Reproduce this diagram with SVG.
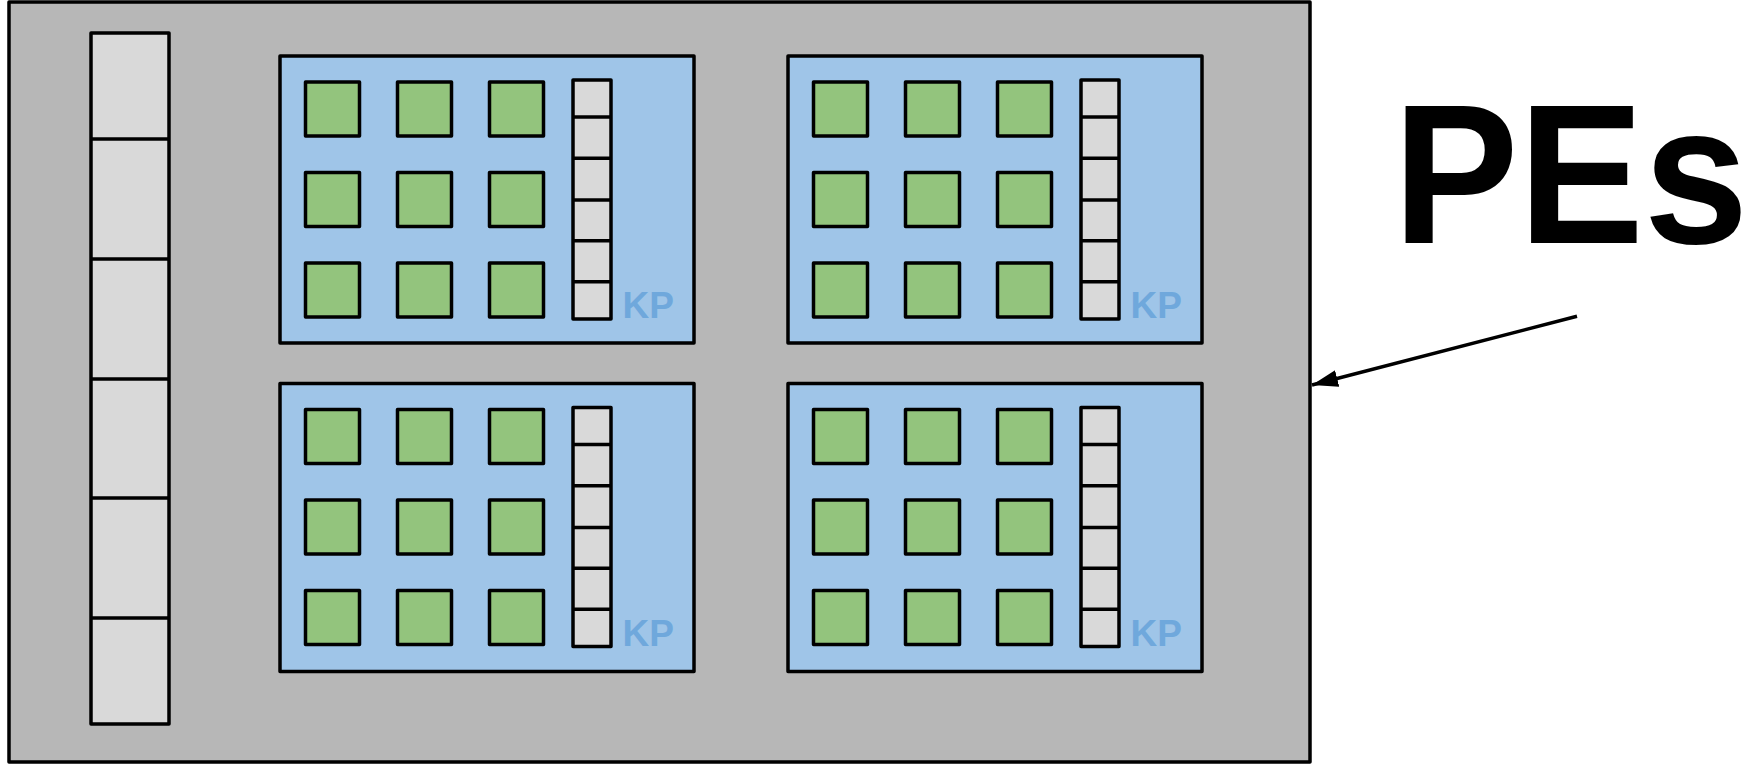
<svg xmlns="http://www.w3.org/2000/svg" width="1758" height="765" viewBox="0 0 1758 765">
<style>
.frame{fill:#b7b7b7;stroke:#000;stroke-width:3.5;stroke-linejoin:round}
.blk{fill:#9fc5e8;stroke:#000;stroke-width:3.5;stroke-linejoin:round}
.pe{fill:#93c47d;stroke:#000;stroke-width:3.5;stroke-linejoin:round}
.reg{fill:#d9d9d9;stroke:#000;stroke-width:3.5;stroke-linejoin:round}
.div{stroke:#000;stroke-width:3.5}
.kp{font-family:"Liberation Sans",Arial,sans-serif;font-weight:bold;font-size:37px;fill:#6fa8dc}
.title{font-family:"Liberation Sans",Arial,sans-serif;font-weight:bold;font-size:188px;fill:#000}
</style>
<defs>
<marker id="ah" markerUnits="userSpaceOnUse" markerWidth="30" markerHeight="20" refX="26" refY="8.5" orient="auto">
<polygon points="0,0 26,8.5 0,17" fill="#000"/>
</marker>
</defs>
<g id="chip">
<rect class="frame" x="9" y="2" width="1301" height="760"/>
</g>
<g id="memory">
<rect class="reg" x="91" y="33" width="78" height="691"/>
<line class="div" x1="91" y1="139" x2="169" y2="139"/>
<line class="div" x1="91" y1="259" x2="169" y2="259"/>
<line class="div" x1="91" y1="379" x2="169" y2="379"/>
<line class="div" x1="91" y1="498" x2="169" y2="498"/>
<line class="div" x1="91" y1="618" x2="169" y2="618"/>
</g>
<g id="kp1" transform="translate(280,56)">
<rect class="blk" x="0" y="0" width="414" height="287"/>
<rect class="pe" x="25.5" y="26" width="54" height="54"/><rect class="pe" x="117.5" y="26" width="54" height="54"/><rect class="pe" x="209.5" y="26" width="54" height="54"/>
<rect class="pe" x="25.5" y="116.5" width="54" height="54"/><rect class="pe" x="117.5" y="116.5" width="54" height="54"/><rect class="pe" x="209.5" y="116.5" width="54" height="54"/>
<rect class="pe" x="25.5" y="207" width="54" height="54"/><rect class="pe" x="117.5" y="207" width="54" height="54"/><rect class="pe" x="209.5" y="207" width="54" height="54"/>
<rect class="reg" x="293" y="24" width="38" height="239"/>
<line class="div" x1="293" y1="61" x2="331" y2="61"/><line class="div" x1="293" y1="102.3" x2="331" y2="102.3"/><line class="div" x1="293" y1="144" x2="331" y2="144"/><line class="div" x1="293" y1="184.7" x2="331" y2="184.7"/><line class="div" x1="293" y1="225.7" x2="331" y2="225.7"/>
<text class="kp" x="342.5" y="262.3">KP</text>
</g>
<g id="kp2" transform="translate(788,56)">
<rect class="blk" x="0" y="0" width="414" height="287"/>
<rect class="pe" x="25.5" y="26" width="54" height="54"/><rect class="pe" x="117.5" y="26" width="54" height="54"/><rect class="pe" x="209.5" y="26" width="54" height="54"/>
<rect class="pe" x="25.5" y="116.5" width="54" height="54"/><rect class="pe" x="117.5" y="116.5" width="54" height="54"/><rect class="pe" x="209.5" y="116.5" width="54" height="54"/>
<rect class="pe" x="25.5" y="207" width="54" height="54"/><rect class="pe" x="117.5" y="207" width="54" height="54"/><rect class="pe" x="209.5" y="207" width="54" height="54"/>
<rect class="reg" x="293" y="24" width="38" height="239"/>
<line class="div" x1="293" y1="61" x2="331" y2="61"/><line class="div" x1="293" y1="102.3" x2="331" y2="102.3"/><line class="div" x1="293" y1="144" x2="331" y2="144"/><line class="div" x1="293" y1="184.7" x2="331" y2="184.7"/><line class="div" x1="293" y1="225.7" x2="331" y2="225.7"/>
<text class="kp" x="342.5" y="262.3">KP</text>
</g>
<g id="kp3" transform="translate(280,383.5)">
<rect class="blk" x="0" y="0" width="414" height="288"/>
<rect class="pe" x="25.5" y="26" width="54" height="54"/><rect class="pe" x="117.5" y="26" width="54" height="54"/><rect class="pe" x="209.5" y="26" width="54" height="54"/>
<rect class="pe" x="25.5" y="116.5" width="54" height="54"/><rect class="pe" x="117.5" y="116.5" width="54" height="54"/><rect class="pe" x="209.5" y="116.5" width="54" height="54"/>
<rect class="pe" x="25.5" y="207" width="54" height="54"/><rect class="pe" x="117.5" y="207" width="54" height="54"/><rect class="pe" x="209.5" y="207" width="54" height="54"/>
<rect class="reg" x="293" y="24" width="38" height="239"/>
<line class="div" x1="293" y1="61" x2="331" y2="61"/><line class="div" x1="293" y1="102.3" x2="331" y2="102.3"/><line class="div" x1="293" y1="144" x2="331" y2="144"/><line class="div" x1="293" y1="184.7" x2="331" y2="184.7"/><line class="div" x1="293" y1="225.7" x2="331" y2="225.7"/>
<text class="kp" x="342.5" y="262.3">KP</text>
</g>
<g id="kp4" transform="translate(788,383.5)">
<rect class="blk" x="0" y="0" width="414" height="288"/>
<rect class="pe" x="25.5" y="26" width="54" height="54"/><rect class="pe" x="117.5" y="26" width="54" height="54"/><rect class="pe" x="209.5" y="26" width="54" height="54"/>
<rect class="pe" x="25.5" y="116.5" width="54" height="54"/><rect class="pe" x="117.5" y="116.5" width="54" height="54"/><rect class="pe" x="209.5" y="116.5" width="54" height="54"/>
<rect class="pe" x="25.5" y="207" width="54" height="54"/><rect class="pe" x="117.5" y="207" width="54" height="54"/><rect class="pe" x="209.5" y="207" width="54" height="54"/>
<rect class="reg" x="293" y="24" width="38" height="239"/>
<line class="div" x1="293" y1="61" x2="331" y2="61"/><line class="div" x1="293" y1="102.3" x2="331" y2="102.3"/><line class="div" x1="293" y1="144" x2="331" y2="144"/><line class="div" x1="293" y1="184.7" x2="331" y2="184.7"/><line class="div" x1="293" y1="225.7" x2="331" y2="225.7"/>
<text class="kp" x="342.5" y="262.3">KP</text>
</g>
<g id="label">
<text class="title" x="1393" y="242.7" transform="matrix(1,0,0,1.06,0,-14.56)">PEs</text>
</g>
<g id="connectors">
<line x1="1577" y1="316.3" x2="1312" y2="385" stroke="#000" stroke-width="3.5" marker-end="url(#ah)"/>
</g>
</svg>
